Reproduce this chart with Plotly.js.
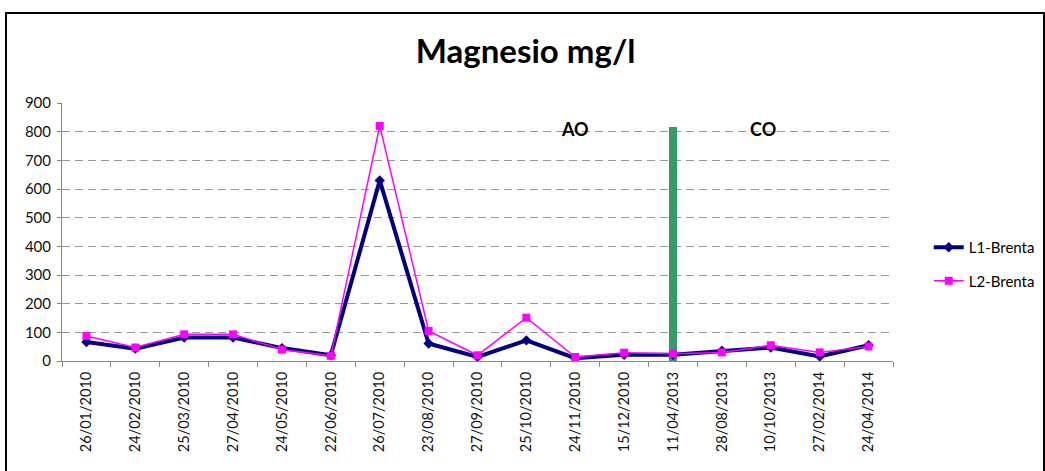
<!DOCTYPE html>
<html>
<head>
<meta charset="utf-8">
<script src="https://cdn.plot.ly/plotly-3.0.1.min.js"></script>
<style>
  html, body { margin: 0; padding: 0; background: #fff; overflow: hidden; }
  #chart { position: absolute; left: 0; top: 0; width: 1045px; height: 471px; }
  #frame { position: absolute; left: 5px; top: 12px; width: 1036px; height: 480px;
           border: 2px solid #000; pointer-events: none; }
</style>
</head>
<body>
<div id="chart"></div>
<div id="frame"></div>
<script>
const dates = ["26/01/2010","24/02/2010","25/03/2010","27/04/2010","24/05/2010","22/06/2010",
  "26/07/2010","23/08/2010","27/09/2010","25/10/2010","24/11/2010","15/12/2010",
  "11/04/2013","28/08/2013","10/10/2013","27/02/2014","24/04/2014"];
const l1Brenta = [66, 43, 82, 82, 45, 20, 630, 61, 14, 72, 10, 22, 22, 36, 47, 16, 55];
const l2Brenta = [87, 47, 93, 93, 40, 18, 820, 105, 20, 151, 14, 29, 25, 30, 55, 30, 51];
const dividerDate = ["11/04/2013"];
const dividerValue = [815];
const phaseLabels = ["AO", "CO"];
const phaseX = [10, 13.84];
const phaseY = [808, 808];
const yTicks = [0, 100, 200, 300, 400, 500, 600, 700, 800, 900];

const font = "Lato, 'Open Sans', 'Liberation Sans', sans-serif";

const traces = [
  {
    type: "bar", x: dividerDate, y: dividerValue, width: 0.17,
    marker: { color: "#389a66" }, showlegend: false, hoverinfo: "skip"
  },
  {
    type: "scatter", mode: "lines+markers", name: "L1-Brenta",
    x: dates, y: l1Brenta,
    line: { color: "#000080", width: 4 },
    marker: { symbol: "diamond", size: 8, color: "#000080" },
    legend: "legend"
  },
  {
    type: "scatter", mode: "lines+markers", name: "L2-Brenta",
    x: dates, y: l2Brenta,
    line: { color: "#ff00ff", width: 1.5 },
    marker: { symbol: "square", size: 8, color: "#ff00ff" },
    legend: "legend2"
  }
];

const annotations = phaseLabels.map((t, i) => ({
  x: phaseX[i], y: phaseY[i], xref: "x", yref: "y", text: "<b>" + t + "</b>",
  showarrow: false, font: { family: font, size: 18, color: "#000" }
}));

const layout = {
  width: 1045, height: 471,
  margin: { l: 62, r: 152, t: 103, b: 110, autoexpand: false },
  paper_bgcolor: "#fff", plot_bgcolor: "#fff",
  title: { text: "<b>Magnesio mg/l</b>", x: 0.503, xanchor: "center", y: 0.89, yanchor: "middle",
           font: { family: font, size: 33, color: "#000" } },
  font: { family: font, color: "#000" },
  bargap: 0,
  xaxis: {
    type: "category", categoryorder: "array", categoryarray: dates,
    tickangle: -90, tickson: "boundaries", ticks: "outside", ticklen: 5, tickcolor: "#888",
    showline: true, linecolor: "#888", linewidth: 1, showgrid: false, ticklabelstandoff: 4,
    tickfont: { family: font, size: 14.5, color: "#111" }, range: [-0.5, 16.5], fixedrange: true,
    automargin: false
  },
  yaxis: {
    range: [0, 900], tickvals: yTicks, ticks: "outside", ticklen: 4, tickcolor: "#888",
    showline: true, linecolor: "#888", linewidth: 1, ticklabelstandoff: 3,
    showgrid: true, gridcolor: "#999", griddash: "8px,5px", gridwidth: 1,
    zeroline: false, tickfont: { family: font, size: 15, color: "#111" }, automargin: false
  },
  legend: { x: 1.043, xanchor: "left", y: 0.44, yanchor: "middle",
            font: { family: font, size: 15, color: "#000" }, bgcolor: "rgba(0,0,0,0)" },
  legend2: { x: 1.043, xanchor: "left", y: 0.31, yanchor: "middle",
             font: { family: font, size: 15, color: "#000" }, bgcolor: "rgba(0,0,0,0)" },
  annotations: annotations
};

Plotly.newPlot("chart", traces, layout, { displayModeBar: false, staticPlot: true });
</script>
</body>
</html>
